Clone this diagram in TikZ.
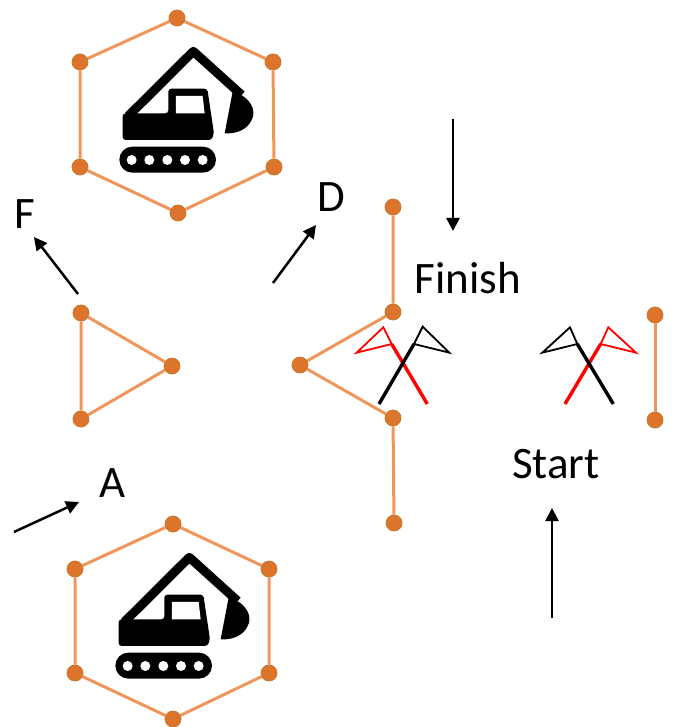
\documentclass[tikz,border=0pt]{standalone}
\usepackage{fontspec}
\setmainfont{Carlito}
\usetikzlibrary{arrows.meta}
\definecolor{edgeor}{HTML}{F0965A}
\definecolor{dotor}{HTML}{DC752B}
\definecolor{dotrim}{HTML}{C8792F}
\tikzset{
  dot/.style={circle,fill=dotor,draw=dotrim,line width=0.8pt,minimum size=16pt,inner sep=0pt},
  link/.style={draw=edgeor,line width=3pt},
  arr/.style={draw=black,line width=2.5pt,-{Triangle[length=13pt,width=13pt]}},
  lab/.style={font=\fontsize{45}{45}\selectfont,text=black,inner sep=0pt},
  pole/.style={line width=3.4pt},
  flagl/.style={line width=1.8pt,line join=miter},
  excav/.pic={
    \begin{scope}[x=0.3333pt,y=-0.3333pt]
      \draw[line width=9pt,line join=round] (205,348) -- (400,154) -- (545,285);
      \fill[rounded corners=3pt] (188,340) -- (325,340) -- (325,266) -- (442,266) -- (462,400) -- (455,420) -- (188,420) -- cycle;
      \fill[white] (348,288) -- (428,288) -- (434,340) -- (348,340) -- cycle;
      \fill (518,275) .. controls (575,290) and (590,335) .. (575,360) .. controls (560,392) and (525,402) .. (494,400) -- cycle;
      \fill[rounded corners=13pt] (178,440) rectangle (468,518);
      \foreach \cx in {215,268,322,375,428}{\fill[white] (\cx,480) circle (5pt);}
    \end{scope}
  }
}
\begin{document}
\begin{tikzpicture}[x=1pt,y=-1pt]
\useasboundingbox (0,0) rectangle (675,727);
\pic at (60,0) {excav};
\node[dot] (t1) at (177,18) {};
\node[dot] (t2) at (80,62) {};
\node[dot] (t3) at (80,167) {};
\node[dot] (t4) at (178,213) {};
\node[dot] (t5) at (274,167) {};
\node[dot] (t6) at (273,62) {};
\pic at (56,506) {excav};
\node[dot] (b1) at (173,524) {};
\node[dot] (b2) at (75,569) {};
\node[dot] (b3) at (75,673) {};
\node[dot] (b4) at (173,719) {};
\node[dot] (b5) at (269,673) {};
\node[dot] (b6) at (269,569) {};
\node[dot] (l1) at (81,313) {};
\node[dot] (l2) at (172,366) {};
\node[dot] (l3) at (81,419) {};
\node[dot] (m1) at (300,365) {};
\node[dot] (m2) at (393,312) {};
\node[dot] (m3) at (393,418) {};
\node[dot] (m4) at (393,207) {};
\node[dot] (m5) at (394,523) {};
\node[dot] (r1) at (655,315) {};
\node[dot] (r2) at (655,420) {};
\draw[link] (t1)--(t2) (t2)--(t3) (t3)--(t4) (t4)--(t5) (t5)--(t6) (t6)--(t1);
\draw[link] (b1)--(b2) (b2)--(b3) (b3)--(b4) (b4)--(b5) (b5)--(b6) (b6)--(b1);
\draw[link] (l1)--(l2) (l2)--(l3) (l3)--(l1);
\draw[link] (m1)--(m2) (m1)--(m3) (m2)--(m4) (m3)--(m5);
\draw[link] (r1)--(r2);
\begin{scope}[shift={(340,300)},x=0.3333pt,y=-0.3333pt]
  \draw[red,pole] (262,312) -- (155,132);
  \draw[red,flagl] (155,132) -- (130,82) -- (50,158) -- cycle;
  \draw[black,pole] (117,312) -- (222,132);
  \draw[black,flagl] (222,132) -- (248,80) -- (328,158) -- cycle;
  \draw[red,pole] (675,312) -- (782,132);
  \draw[red,flagl] (782,132) -- (805,82) -- (888,158) -- cycle;
  \draw[black,pole] (820,312) -- (712,132);
  \draw[black,flagl] (712,132) -- (690,82) -- (607,158) -- cycle;
\end{scope}
\coordinate (fa) at (78,294); \coordinate (fb) at (34,237);
\coordinate (da) at (273,283); \coordinate (db) at (316,225);
\coordinate (aa) at (14,532); \coordinate (ab) at (79,502);
\coordinate (na) at (453,119); \coordinate (nb) at (453,231);
\coordinate (sa) at (552,618); \coordinate (sb) at (552,508);
\draw[arr] (fa) -- (fb);
\draw[arr] (da) -- (db);
\draw[arr] (aa) -- (ab);
\draw[arr] (na) -- (nb);
\draw[arr] (sa) -- (sb);
\node[lab] (lF) at (25,214) {F};
\node[lab] (lD) at (331,197) {D};
\node[lab] (lA) at (113,483) {A};
\node[lab] (lFin) at (468,278) {Finish};
\node[lab] (lSt) at (556,464) {Start};
\end{tikzpicture}
\end{document}
